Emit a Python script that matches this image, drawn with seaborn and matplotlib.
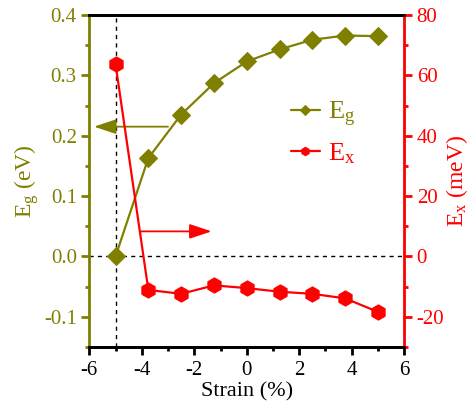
import matplotlib
matplotlib.use("Agg")
import matplotlib.pyplot as plt
from matplotlib.ticker import MultipleLocator
import seaborn as sns
import pandas as pd

# Strain sweep (%)
strain = [-5.0, -3.75, -2.5, -1.25, 0.0, 1.25, 2.5, 3.75, 5.0]
# Band gap E_g (eV)
eg = [0.0, 0.163, 0.235, 0.287, 0.323, 0.343, 0.359, 0.366, 0.365]
# Exciton quantity E_x (meV)
ex = [63.7, -11.1, -12.4, -9.6, -10.5, -11.7, -12.4, -13.9, -18.4]

OLIVE = "#808000"
RED = "#ff0000"

sns.set_theme(style="ticks")
plt.rcParams["font.family"] = ["Liberation Serif", "DejaVu Serif"]
plt.rcParams["mathtext.default"] = "regular"

df = pd.DataFrame({"strain": strain, "eg": eg, "ex": ex})

fig = plt.figure(figsize=(4.70, 4.17), dpi=100)
ax = fig.add_axes([0.190, 0.168, 0.670, 0.796])
ax2 = ax.twinx()

# reference guides at zero band gap and -5 % strain
ax.axhline(0, color="black", lw=1.0, ls=(0, (3, 3)), zorder=1)
ax.axvline(-5, color="black", lw=1.0, ls=(0, (3, 3)), zorder=1)

sns.lineplot(data=df, x="strain", y="eg", ax=ax, color=OLIVE, lw=1.6,
             marker="D", markersize=9, markeredgecolor=OLIVE,
             label=r"$\mathregular{E_g}$", legend=False, zorder=3)
sns.lineplot(data=df, x="strain", y="ex", ax=ax2, color=RED, lw=1.6,
             marker="h", markersize=11, markeredgecolor=RED,
             label=r"$\mathregular{E_x}$", legend=False, zorder=3)

ax.set_xlim(-6, 6)
ax.set_ylim(-0.15, 0.4)
ax2.set_ylim(-30, 80)

ax.xaxis.set_major_locator(MultipleLocator(2))
ax.xaxis.set_minor_locator(MultipleLocator(1))
ax.yaxis.set_major_locator(MultipleLocator(0.1))
ax.yaxis.set_minor_locator(MultipleLocator(0.05))
ax2.yaxis.set_major_locator(MultipleLocator(20))
ax2.yaxis.set_minor_locator(MultipleLocator(10))
ax2.set_yticks([-20, 0, 20, 40, 60, 80])
ax.set_yticks([-0.1, 0.0, 0.1, 0.2, 0.3, 0.4])
ax.set_yticklabels(["-0.1", "0.0", "0.1", "0.2", "0.3", "0.4"])
ax.set_xticks([-6, -4, -2, 0, 2, 4, 6])
ax.set_xticklabels(["-6", "-4", "-2", "0", "2", "4", "6"])
ax2.set_yticklabels(["-20", "0", "20", "40", "60", "80"])

for a in (ax, ax2):
    for s in a.spines.values():
        s.set_linewidth(2.0)
        s.set_color("black")
ax.spines["left"].set_color(OLIVE)
ax2.spines["left"].set_visible(False)
ax2.spines["right"].set_color(RED)
ax.spines["right"].set_visible(False)

ax.tick_params(axis="x", which="major", direction="out", length=6, width=2,
               colors="black", labelsize=15, pad=4)
ax.tick_params(axis="x", which="minor", direction="out", length=3, width=2,
               colors="black")
ax.tick_params(axis="y", which="major", direction="out", length=6, width=2,
               colors=OLIVE, labelsize=15, pad=3)
ax.tick_params(axis="y", which="minor", direction="out", length=3, width=2,
               colors=OLIVE)
ax2.tick_params(axis="y", which="major", direction="out", length=6, width=2,
                colors=RED, labelsize=15, pad=3)
ax2.tick_params(axis="y", which="minor", direction="out", length=3, width=2,
                colors=RED)

ax.set_xlabel("Strain (%)", fontsize=16, color="black", labelpad=2)
ax.set_ylabel(r"$\mathregular{E_g}$ (eV)", fontsize=17, color=OLIVE, labelpad=2)
ax2.set_ylabel(r"$\mathregular{E_x}$ (meV)", fontsize=17, color=RED, labelpad=0)

# arrows pointing each curve to its own axis
arrow_style = "-|>,head_length=0.9,head_width=0.3"
ax.annotate("", xy=(-5.82, 0.215), xytext=(-3.0, 0.215),
            arrowprops=dict(arrowstyle=arrow_style, color=OLIVE, lw=1.3,
                            mutation_scale=15, shrinkA=0, shrinkB=0),
            zorder=2)
ax2.annotate("", xy=(-1.34, 8.3), xytext=(-4.07, 8.3),
             arrowprops=dict(arrowstyle=arrow_style, color=RED, lw=1.3,
                             mutation_scale=15, shrinkA=0, shrinkB=0),
             zorder=2)

h1, l1 = ax.get_legend_handles_labels()
h2, l2 = ax2.get_legend_handles_labels()
leg = ax2.legend(h1 + h2, l1 + l2, loc="upper left",
                 bbox_to_anchor=(0.565, 0.815), frameon=False, fontsize=19,
                 handlelength=1.1, handletextpad=0.3, labelspacing=0.45,
                 markerscale=0.55)
for txt, c in zip(leg.get_texts(), (OLIVE, RED)):
    txt.set_color(c)

fig.savefig("out.png", dpi=100)
